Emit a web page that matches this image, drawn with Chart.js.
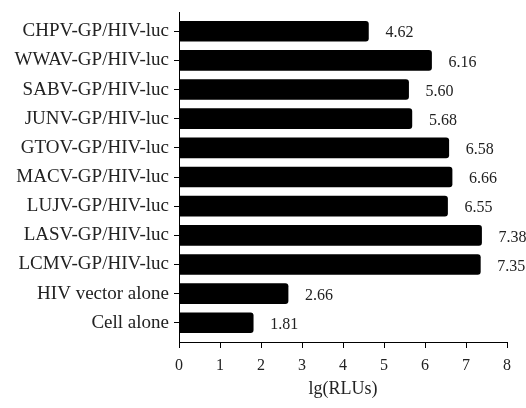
<!DOCTYPE html>
<html>
<head>
<meta charset="utf-8">
<script src="https://cdn.jsdelivr.net/npm/chart.js@4"></script>
<style>
  html, body { margin: 0; padding: 0; background: #fff; }
  #wrap { width: 526px; height: 408px; }
</style>
</head>
<body>
<div id="wrap"><canvas id="chart"></canvas></div>
<script>
// data
const categories = [
  'CHPV-GP/HIV-luc', 'WWAV-GP/HIV-luc', 'SABV-GP/HIV-luc', 'JUNV-GP/HIV-luc',
  'GTOV-GP/HIV-luc', 'MACV-GP/HIV-luc', 'LUJV-GP/HIV-luc', 'LASV-GP/HIV-luc',
  'LCMV-GP/HIV-luc', 'HIV vector alone', 'Cell alone'
];
const rluValues = [4.62, 6.16, 5.60, 5.68, 6.58, 6.66, 6.55, 7.38, 7.35, 2.66, 1.81];
const valueLabels = ['4.62', '6.16', '5.60', '5.68', '6.58', '6.66', '6.55', '7.38', '7.35', '2.66', '1.81'];
const xTicks = [0, 1, 2, 3, 4, 5, 6, 7, 8];
const xTitle = 'lg(RLUs)';

const serif = "'Liberation Serif', 'Times New Roman', serif";
const ink = '#222';

// bar value text right of each bar
const valueText = {
  id: 'valueText',
  afterDatasetsDraw(chart) {
    const ctx = chart.ctx;
    const meta = chart.getDatasetMeta(0);
    ctx.save();
    ctx.font = '16px ' + serif;
    ctx.fillStyle = ink;
    ctx.textAlign = 'left';
    ctx.textBaseline = 'middle';
    meta.data.forEach((bar, i) => {
      ctx.fillText(valueLabels[i], bar.x + 17, bar.y + 2);
    });
    ctx.restore();
  }
};

const ctx = document.getElementById('chart').getContext('2d');
new Chart(ctx, {
  type: 'bar',
  data: {
    datasets: [{
      data: rluValues.map((v, i) => ({ x: v, y: i })),
      backgroundColor: '#000',
      borderWidth: 0,
      borderRadius: 3,
      barThickness: 20
    }]
  },
  options: {
    indexAxis: 'y',
    responsive: true,
    maintainAspectRatio: false,
    animation: false,
    layout: { padding: { top: 12, right: 19, left: 0, bottom: 0 } },
    plugins: {
      legend: { display: false },
      tooltip: { enabled: false }
    },
    scales: {
      x: {
        type: 'linear',
        min: 0,
        max: 8,
        afterBuildTicks: s => { s.ticks = xTicks.map(v => ({ value: v })); },
        afterFit: s => { s.height = 66; },
        grid: { drawOnChartArea: false, tickLength: 6, color: '#000' },
        border: { color: '#000', width: 1 },
        ticks: { color: ink, font: { family: serif, size: 16 }, padding: 8 },
        title: {
          display: true,
          text: xTitle,
          color: ink,
          font: { family: serif, size: 18 },
          padding: { top: 4, bottom: 8 }
        }
      },
      y: {
        type: 'linear',
        reverse: true,
        offset: false,
        min: -0.66,
        max: 10.66,
        afterBuildTicks: s => { s.ticks = categories.map((c, i) => ({ value: i })); },
        afterFit: s => { s.width = 179; s.paddingTop = 0; s.paddingBottom = 0; },
        grid: { drawOnChartArea: false, offset: false, tickLength: 5, color: '#000' },
        border: { color: '#000', width: 1 },
        ticks: {
          color: ink,
          font: { family: serif, size: 19 },
          padding: 5,
          autoSkip: false,
          callback: v => categories[v]
        }
      }
    }
  },
  plugins: [valueText]
});
</script>
</body>
</html>
